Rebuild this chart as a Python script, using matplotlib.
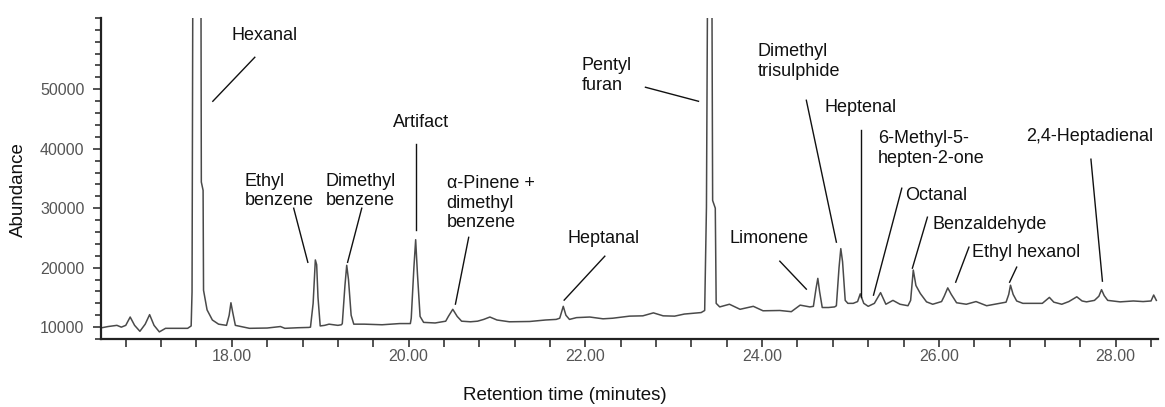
import matplotlib
matplotlib.use('Agg')
import matplotlib.pyplot as plt
from matplotlib.ticker import FixedLocator, FormatStrFormatter

plt.rcParams['font.family'] = ['Liberation Sans', 'DejaVu Sans']

# chromatogram trace: retention time (min) / abundance
rt = [16.53, 16.60, 16.70, 16.75, 16.80, 16.85, 16.90, 16.96, 17.02, 17.07,
      17.12, 17.18, 17.25, 17.40, 17.50, 17.54, 17.55, 17.56, 17.65, 17.655,
      17.675, 17.68, 17.72, 17.78, 17.85, 17.94, 17.97, 17.99, 18.01, 18.04,
      18.20, 18.40, 18.55, 18.60, 18.75, 18.87,
      18.89, 18.92, 18.945, 18.96, 18.975, 19.00, 19.05, 19.10, 19.20, 19.24,
      19.25, 19.28, 19.30, 19.32, 19.35, 19.38, 19.50, 19.70, 19.90, 20.02,
      20.03, 20.06, 20.08, 20.10, 20.13, 20.17, 20.30, 20.42,
      20.45, 20.50, 20.55, 20.60, 20.70, 20.78, 20.85, 20.92, 21.00, 21.14,
      21.37, 21.55, 21.67, 21.71, 21.75, 21.78, 21.82, 21.90, 22.05, 22.20,
      22.31, 22.50, 22.65, 22.77, 22.88, 23.01, 23.12, 23.31,
      23.35, 23.37, 23.385, 23.43, 23.44, 23.47, 23.48, 23.52,
      23.63, 23.75, 23.90, 24.01, 24.20, 24.33, 24.43, 24.54,
      24.58, 24.61, 24.63, 24.65, 24.68, 24.75, 24.82,
      24.84, 24.87, 24.89, 24.91, 24.94, 24.97, 25.03, 25.08, 25.11, 25.15,
      25.20, 25.27, 25.34, 25.40, 25.48, 25.56, 25.65,
      25.68, 25.71, 25.74, 25.79, 25.86, 25.93, 26.03, 26.06, 26.10, 26.14,
      26.20, 26.31, 26.42, 26.54, 26.69, 26.76, 26.79, 26.81, 26.84, 26.88,
      26.95, 27.07, 27.17, 27.25, 27.30, 27.39, 27.47, 27.56, 27.62, 27.67,
      27.76, 27.81, 27.84, 27.87, 27.91, 28.05, 28.20, 28.31, 28.40, 28.43,
      28.46]
abundance = [9900, 10100, 10300, 10000, 10300, 11700, 10300, 9300, 10500, 12100,
             10300, 9200, 9800, 9800, 9800, 10200, 15900, 75000, 75000, 34400,
             33000, 16200, 12900, 11200, 10500, 10300, 12000, 14100, 12500, 10300,
             9800, 9850, 10100, 9800, 9900, 9950,
             10000, 14000, 21300, 20500, 15000, 10200, 10300, 10500, 10300, 10400,
             10600, 17000, 20400, 18000, 12000, 10500, 10500, 10400, 10600, 10600,
             11500, 20000, 24700, 19000, 11800, 10800, 10700, 11000,
             11800, 13000, 11800, 11000, 10900, 11000, 11300, 11700, 11200, 10900,
             10950, 11200, 11300, 11500, 13500, 12000, 11300, 11600, 11700, 11400,
             11500, 11850, 11900, 12400, 11900, 11850, 12200, 12450,
             12800, 30200, 75000, 75000, 31300, 30000, 14000, 13400,
             13850, 13000, 13500, 12750, 12800, 12600, 13700, 13400,
             13500, 16500, 18200, 16000, 13300, 13300, 13400,
             13600, 20000, 23200, 21000, 14500, 14000, 14000, 14300, 15600, 14000,
             13500, 14000, 15800, 13850, 14500, 13850, 13600,
             14500, 19600, 17000, 15650, 14250, 13850, 14300, 15200, 16600, 15500,
             14100, 13850, 14300, 13600, 14000, 14200, 15500, 17050, 15500, 14400,
             14000, 14000, 14000, 15000, 14200, 13850, 14300, 15100, 14400, 14250,
             14500, 15200, 16300, 15300, 14500, 14250, 14400, 14300, 14400, 15400,
             14500]

# compound labels: text, label position (rt, abundance), leader line
labels = [
    ('Hexanal', 18.00, 59100, [(18.26, 55380), (17.785, 47980)]),
    ('Ethyl\nbenzene', 18.147, 32860, [(18.70, 30000), (18.86, 20900)]),
    ('Dimethyl\nbenzene', 19.063, 32860, [(19.47, 30000), (19.31, 20900)]),
    ('Artifact', 19.82, 44450, [(20.08, 40760), (20.08, 26300)]),
    ('\u03b1-Pinene +\ndimethyl\nbenzene', 20.43, 30840, [(20.68, 25100), (20.53, 13870)]),
    ('Heptanal', 21.80, 24960, [(22.22, 21930), (21.76, 14540)]),
    ('Pentyl\nfuran', 21.96, 52270, [(22.68, 50340), (23.28, 47980)]),
    ('Limonene', 23.63, 24960, [(24.20, 21090), (24.50, 16390)]),
    ('Dimethyl\ntrisulphide', 23.95, 54700, [(24.50, 48150), (24.84, 24290)]),
    ('Heptenal', 24.71, 46975, [(25.115, 43110), (25.115, 15040)]),
    ('6-Methyl-5-\nhepten-2-one', 25.31, 40085, None),
    ('Octanal', 25.62, 32190, [(25.58, 33360), (25.26, 15380)]),
    ('Benzaldehyde', 25.93, 27310, [(25.87, 28490), (25.70, 19920)]),
    ('Ethyl hexanol', 26.38, 22600, [(26.34, 23450), (26.19, 17560)]),
    ('2,4-Heptadienal', 26.99, 42100, [(27.72, 38240), (27.85, 17730)]),
]
extra_leaders = [[(26.88, 20090), (26.80, 17560)]]

fig = plt.figure(figsize=(11.65, 4.07), dpi=100)
ax = fig.add_axes([0.0867, 0.167, 0.907, 0.789])

ax.plot(rt, abundance, color='#4a4a4a', lw=1.1)

for name, tx, ty, lead in labels:
    ax.text(tx, ty, name, fontsize=13, ha='left', va='center',
            color='#111111', linespacing=1.2)
    if lead:
        ax.plot([p[0] for p in lead], [p[1] for p in lead], color='#111111', lw=1.0)
for lead in extra_leaders:
    ax.plot([p[0] for p in lead], [p[1] for p in lead], color='#111111', lw=1.0)

ax.set_xlim(16.52, 28.475)
ax.set_ylim(8000, 62000)

ax.spines['top'].set_visible(False)
ax.spines['right'].set_visible(False)
for s in ('left', 'bottom'):
    ax.spines[s].set_color('#222222')
    ax.spines[s].set_linewidth(1.6)

ax.xaxis.set_major_locator(FixedLocator([18, 20, 22, 24, 26, 28]))
ax.xaxis.set_minor_locator(FixedLocator([16.8 + 0.4 * k for k in range(30)]))
ax.xaxis.set_major_formatter(FormatStrFormatter('%.2f'))
ax.yaxis.set_major_locator(FixedLocator([10000, 20000, 30000, 40000, 50000]))
ax.yaxis.set_minor_locator(FixedLocator(list(range(8000, 62001, 2000))))
ax.yaxis.set_major_formatter(FormatStrFormatter('%d'))

ax.tick_params(axis='both', which='both', direction='out', color='#222222',
               labelcolor='#555555', labelsize=11.5, width=1.1)
ax.tick_params(axis='x', which='both', length=6, pad=1)
ax.tick_params(axis='y', which='major', length=6, pad=6)
ax.tick_params(axis='y', which='minor', length=4)

fig.text(18 / 1165, 1 - 190 / 407, 'Abundance', rotation=90, fontsize=13.5,
         ha='center', va='center', color='#111111')
fig.text(565 / 1165, 1 - 396 / 407, 'Retention time (minutes)', fontsize=13.5,
         ha='center', va='center', color='#111111')

fig.savefig('out.png', dpi=100)
